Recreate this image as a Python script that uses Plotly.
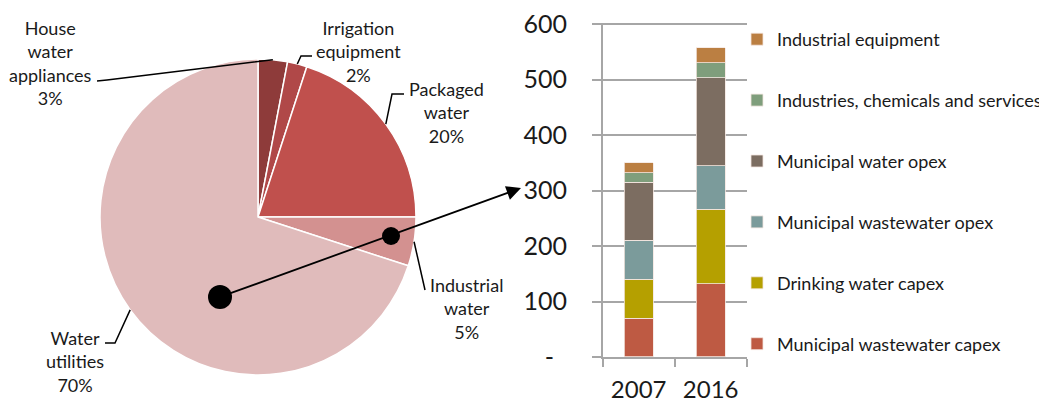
import math
import plotly.graph_objects as go

# page offset: the figure div sits 8px in from the top-left corner of the page
OFF = 8
W, H = 1047 - OFF, 405 - OFF

# pie data
pie_labels = ["House water appliances", "Irrigation equipment", "Packaged water",
              "Industrial water", "Water utilities"]
pie_text = ["House<br>water<br>appliances<br>3%", "Irrigation<br>equipment<br>2%",
            "Packaged<br>water<br>20%", "Industrial<br>water<br>5%",
            "Water<br>utilities<br>70%"]
pie_values = [3, 2, 20, 5, 70]
pie_colors = ["#8E3B3A", "#B04848", "#C0504D", "#D39190", "#E0BBBB"]

# bar data
years = ["2007", "2016"]
series = ["Municipal wastewater capex", "Drinking water capex", "Municipal wastewater opex",
          "Municipal water opex", "Industries, chemicals and services", "Industrial equipment"]
values_2007 = [70, 70, 70, 105, 17, 18]
values_2016 = [132, 134, 79, 158, 27, 27]
bar_colors = ["#BE5A43", "#B5A000", "#7B9B9B", "#7C6D61", "#7F9E7C", "#BB7F42"]
y_ticks = [0, 100, 200, 300, 400, 500, 600]
y_ticktext = ["-\u00a0\u00a0", "100", "200", "300", "400", "500", "600"]


def px(x):
    return (x - OFF) / W


def py(y):
    return 1 - (y - OFF) / H


# pie geometry (page pixels)
cx, cy, r = 258, 217, 158
label_pos = [(50, 63), (358, 51), (446, 112), (466, 308), (75, 361)]
leader_bends = [[(107, 80), (97, 81)], [(301, 56), (312, 56)], [(392, 94), (404, 94)],
                [(425, 290)], [(115, 343), (105, 343)]]

fig = go.Figure()

fig.add_trace(go.Pie(
    labels=pie_labels, values=pie_values, sort=False, direction="clockwise", rotation=0,
    textinfo="none", hoverinfo="label+percent", showlegend=False,
    marker=dict(colors=pie_colors, line=dict(color="white", width=1.5)),
    domain=dict(x=[px(cx - r), px(cx + r)], y=[py(cy + r), py(cy - r)]),
))

n = len(series)
for i, (name, vals, col) in enumerate(zip(series, zip(values_2007, values_2016), bar_colors)):
    fig.add_trace(go.Bar(
        x=years, y=list(vals), name=name, legendgroup=name, legendrank=n - i,
        marker=dict(color=col, line=dict(color="#F4E6E0", width=0.8)),
    ))

shapes = []
annotations = []
total = sum(pie_values)
cum = 0
for v, txt, (lx, ly), bends in zip(pie_values, pie_text, label_pos, leader_bends):
    a = 2 * math.pi * (cum + v / 2) / total
    cum += v
    ex, ey = cx + r * math.sin(a), cy - r * math.cos(a)
    pts = [(ex, ey)] + bends
    path = "M " + " L ".join(f"{px(x):.5f},{py(y):.5f}" for x, y in pts)
    shapes.append(dict(type="path", path=path, xref="paper", yref="paper",
                       line=dict(color="black", width=1.5)))
    annotations.append(dict(text=txt, x=px(lx), y=py(ly), xref="paper", yref="paper",
                            showarrow=False, xanchor="center", yanchor="middle",
                            font=dict(size=18, color="#1a1a1a")))

# dots and arrow linking pie to bar chart
for dx, dy, dr in [(220, 297, 12), (391, 236, 9)]:
    shapes.append(dict(type="circle", xref="paper", yref="paper",
                       x0=px(dx - dr), x1=px(dx + dr), y0=py(dy + dr), y1=py(dy - dr),
                       fillcolor="black", line=dict(color="black", width=0)))
annotations.append(dict(x=px(521), y=py(188), xref="paper", yref="paper", text="",
                        showarrow=True, ax=-301, ay=109, arrowhead=2, arrowsize=1.6,
                        arrowwidth=1.8, arrowcolor="black"))

grid = "#A6A6A6"
y_top = 602  # a little headroom so the 600 gridline is kept
fig.update_layout(
    width=W, height=H, margin=dict(l=0, r=0, t=0, b=0, autoexpand=False),
    paper_bgcolor="white", plot_bgcolor="white",
    font=dict(family="Lato", color="#1a1a1a"),
    barmode="stack", bargap=0.6,
    shapes=shapes, annotations=annotations,
    legend=dict(x=px(737), y=py(21), xanchor="left", yanchor="top",
                traceorder="grouped", tracegroupgap=34.5,
                font=dict(size=18, color="#1a1a1a"), bgcolor="rgba(0,0,0,0)"),
    xaxis=dict(domain=[px(602.7), px(746.7)], type="category", showline=True,
               linecolor=grid, linewidth=1.5, ticks="outside", tickson="boundaries",
               ticklen=8, tickcolor=grid, tickwidth=1.5, showgrid=False, automargin=False,
               tickfont=dict(size=24), ticklabelstandoff=10),
    yaxis=dict(domain=[py(357), py(357 - 333 * y_top / 600)], range=[0, y_top],
               tickvals=y_ticks, ticktext=y_ticktext, showgrid=True, gridcolor=grid,
               gridwidth=1.5, showline=True, linecolor=grid, linewidth=1.5, ticks="outside",
               ticklen=9, tickcolor=grid, tickwidth=1.5, zeroline=False, automargin=False,
               ticklabeloverflow="allow", tickfont=dict(size=25), ticklabelstandoff=20),
)

fig.write_html("out.html")
